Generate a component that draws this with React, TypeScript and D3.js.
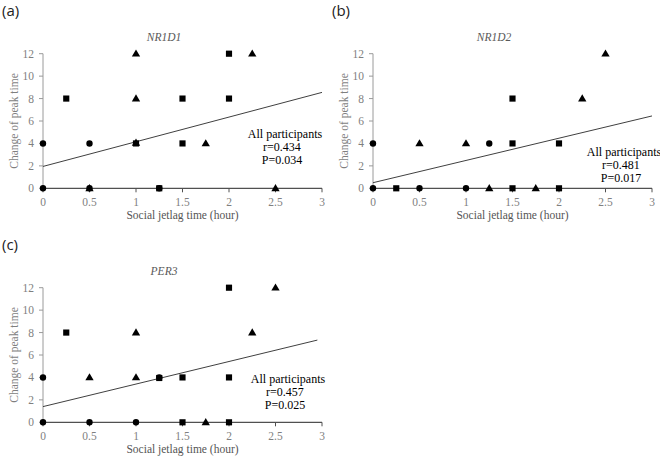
import React from "react";
import * as d3 from "d3";

type Pt = [number, number];

const xTicks = [0, 0.5, 1, 1.5, 2, 2.5, 3];
const yTicks = [0, 2, 4, 6, 8, 10, 12];

// Panel (a) NR1D1
const aCircles: Pt[] = [[0, 4], [0.5, 4], [0, 0], [0.5, 0], [1.25, 0]];
const aSquares: Pt[] = [[0.25, 8], [1, 4], [1.5, 8], [1.5, 4], [2, 12], [2, 8], [1.25, 0]];
const aTriangles: Pt[] = [[1, 12], [1, 8], [1, 4.05], [1.75, 4], [2.25, 12], [2.5, 0], [0.5, 0]];
const aLine: Pt[] = [[0, 1.95], [3, 8.55]];
const aStats = ["All participants", "r=0.434", "P=0.034"];

// Panel (b) NR1D2
const bCircles: Pt[] = [[0, 4], [0, 0], [0.5, 0], [1, 0], [1.25, 4]];
const bSquares: Pt[] = [[0.25, 0], [1.5, 8], [1.5, 4], [1.5, 0], [2, 4], [2, 0]];
const bTriangles: Pt[] = [[0.5, 4], [1, 4], [1.25, 0], [1.75, 0], [2.25, 8], [2.5, 12]];
const bLine: Pt[] = [[0, 0.5], [3, 6.45]];
const bStats = ["All participants", "r=0.481", "P=0.017"];

// Panel (c) PER3
const cCircles: Pt[] = [[0, 4], [0, 0], [0.5, 0], [1, 0], [1.25, 4]];
const cSquares: Pt[] = [[0.25, 8], [1.25, 3.95], [1.5, 4], [1.5, 0], [2, 12], [2, 4], [2, 0]];
const cTriangles: Pt[] = [[0.5, 4], [1, 8], [1, 4], [1.75, 0], [2.25, 8], [2.5, 12]];
const cLine: Pt[] = [[0, 1.4], [2.95, 7.33]];
const cStats = ["All participants", "r=0.457", "P=0.025"];

interface PanelProps {
  tag: string;
  title: string;
  ox: number;
  oy: number;
  circles: Pt[];
  squares: Pt[];
  triangles: Pt[];
  line: Pt[];
  stats: string[];
  statsX: number;
  statsY: number;
}

const serifStyle = { fontFamily: '"Liberation Serif", "Times New Roman", serif' };
const sansStyle = { fontFamily: '"Open Sans", "Liberation Sans", sans-serif' };

function Panel(p: PanelProps) {
  const x = d3.scaleLinear().domain([0, 3]).range([p.ox, p.ox + 279]);
  const y = d3.scaleLinear().domain([0, 12]).range([p.oy, p.oy - 134.6]);
  const lineGen = d3
    .line<Pt>()
    .x((d) => x(d[0]))
    .y((d) => y(d[1]));
  const tri = d3.symbol().type(d3.symbolTriangle).size(30)();
  const circ = d3.symbol().type(d3.symbolCircle).size(32)();
  const sq = d3.symbol().type(d3.symbolSquare).size(38)();
  const grey = "#7f7f7f";
  return (
    <g>
      <text x={p.ox - 41} y={p.oy - 172} style={sansStyle} fontSize={15} fill="#222">
        {p.tag}
      </text>
      <text
        x={p.ox + 121}
        y={p.oy - 147}
        textAnchor="middle"
        style={serifStyle}
        fontStyle="italic"
        fontSize={11.5}
        fill="#595959"
      >
        {p.title}
      </text>
      <line x1={x(0)} x2={x(0)} y1={y(0)} y2={y(12)} stroke="#9a9a9a" strokeWidth={1} />
      {yTicks.map((t) => (
        <g key={"y" + t}>
          <line x1={x(0) - 4} x2={x(0)} y1={y(t)} y2={y(t)} stroke="#9a9a9a" />
          <text
            x={x(0) - 9}
            y={y(t)}
            dy="0.35em"
            textAnchor="end"
            style={serifStyle}
            fontSize={11.5}
            fill={grey}
          >
            {t}
          </text>
        </g>
      ))}
      <text
        transform={`translate(${p.ox - 29},${(y(0) + y(12)) / 2}) rotate(-90)`}
        textAnchor="middle"
        dy="0.35em"
        style={serifStyle}
        fontSize={11.5}
        fill={grey}
      >
        Change of peak time
      </text>
      <line x1={x(0)} x2={x(3)} y1={y(0)} y2={y(0)} stroke="#505050" strokeWidth={1.2} />
      {xTicks.map((t) => (
        <g key={"x" + t}>
          <line x1={x(t)} x2={x(t)} y1={y(0)} y2={y(0) + 4} stroke="#505050" />
          <text
            x={x(t)}
            y={y(0) + 18}
            textAnchor="middle"
            style={serifStyle}
            fontSize={11.5}
            fill={grey}
          >
            {t}
          </text>
        </g>
      ))}
      <text
        x={(x(0) + x(3)) / 2}
        y={y(0) + 31}
        textAnchor="middle"
        style={serifStyle}
        fontSize={11.5}
        fill="#555"
      >
        Social jetlag time (hour)
      </text>
      <path d={lineGen(p.line) || ""} fill="none" stroke="#404040" strokeWidth={1} />
      {p.triangles.map((d, i) => (
        <path key={"t" + i} d={tri || ""} transform={`translate(${x(d[0])},${y(d[1]) + 0.5})`} fill="#000" />
      ))}
      {p.squares.map((d, i) => (
        <path key={"s" + i} d={sq || ""} transform={`translate(${x(d[0])},${y(d[1])})`} fill="#000" />
      ))}
      {p.circles.map((d, i) => (
        <path key={"c" + i} d={circ || ""} transform={`translate(${x(d[0])},${y(d[1])})`} fill="#000" />
      ))}
      {p.stats.map((s, i) => (
        <text
          key={"st" + i}
          x={p.statsX + (i === 0 ? 3 : 0)}
          y={p.statsY + i * 12.8}
          textAnchor="middle"
          style={serifStyle}
          fontSize={12}
          fill="#000"
        >
          {s}
        </text>
      ))}
    </g>
  );
}

export default function App() {
  return (
    <svg width={660} height={460} style={{ position: "absolute", left: 0, top: 0, background: "#fff" }}>
      <rect width={660} height={460} fill="#fff" />
      <Panel
        tag="(a)"
        title="NR1D1"
        ox={43}
        oy={188.3}
        circles={aCircles}
        squares={aSquares}
        triangles={aTriangles}
        line={aLine}
        stats={aStats}
        statsX={282}
        statsY={138}
      />
      <Panel
        tag="(b)"
        title="NR1D2"
        ox={373}
        oy={188.3}
        circles={bCircles}
        squares={bSquares}
        triangles={bTriangles}
        line={bLine}
        stats={bStats}
        statsX={621}
        statsY={156}
      />
      <Panel
        tag="(c)"
        title="PER3"
        ox={43}
        oy={422.3}
        circles={cCircles}
        squares={cSquares}
        triangles={cTriangles}
        line={cLine}
        stats={cStats}
        statsX={285}
        statsY={383}
      />
    </svg>
  );
}
